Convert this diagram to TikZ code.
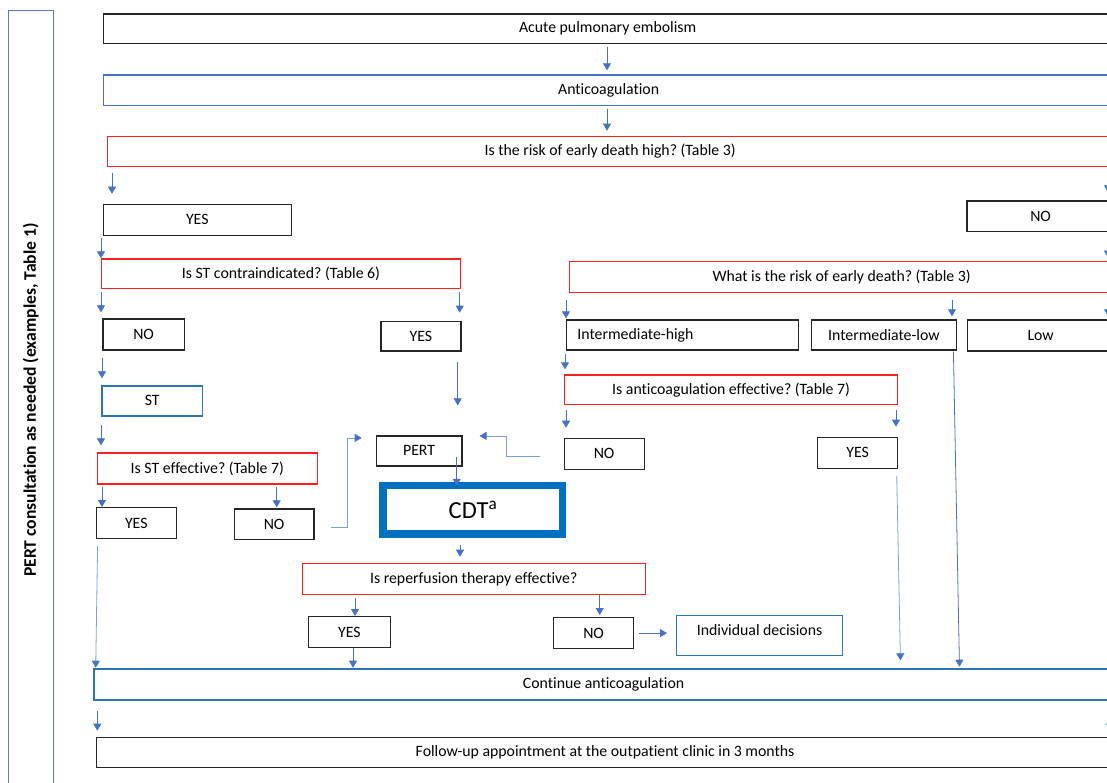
\documentclass[tikz,border=0pt]{standalone}
\usepackage{fontspec}
\setmainfont{Carlito}[Ligatures=NoCommon]
\usetikzlibrary{arrows.meta}
\definecolor{arrblue}{HTML}{4472C4}
\definecolor{lightarr}{HTML}{7F9FD6}
\definecolor{boxblue}{HTML}{4472C4}
\definecolor{brightblue}{HTML}{2E75B6}
\definecolor{cdtblue}{HTML}{0070C0}
\definecolor{sideblue}{HTML}{5B7DB8}
\definecolor{boxred}{HTML}{FF1F1F}
\frenchspacing
\begin{document}
\frenchspacing
\begin{tikzpicture}[x=1pt,y=-1pt,
  txt/.style={font=\fontsize{15.8}{19}\selectfont},
  box/.style={txt, draw=black!85, line width=1.2pt, inner sep=0pt, anchor=north west},
  bluebox/.style={box, draw=boxblue},
  bbox/.style={box, draw=brightblue},
  redbox/.style={box, draw=boxred},
  arr/.style={draw=arrblue, line width=0.8pt, -{Triangle[width=8pt,length=7pt]}},
  arrl/.style={draw=lightarr, line width=0.8pt, -{Triangle[width=8pt,length=7pt,color=arrblue]}}
]
\useasboundingbox (0,0) rectangle (1107,782);

% side panel
\node[draw=sideblue, line width=1.2pt, rotate=90, minimum width=778.6pt, minimum height=45pt, inner sep=0pt,
      font=\fontsize{17.6}{21}\selectfont\bfseries] (pertside) at (30.8,400) {PERT consultation as needed (examples, Table 1)};

% main boxes
\node[box, minimum width=1008.6pt, minimum height=29.4pt] (acute) at (102.7,13.3) {Acute pulmonary embolism};
\node[bluebox, minimum width=1010.6pt, minimum height=30.7pt] (anticoag) at (102.7,74.3) {Anticoagulation};
\node[redbox, minimum width=1005.6pt, minimum height=30.3pt] (risk) at (106.7,135.7) {Is the risk of early death high? (Table 3)};

\node[box, minimum width=188pt, minimum height=31pt] (yes1) at (102.7,203.7) {YES};
\node[box, minimum width=147.4pt, minimum height=30.7pt] (no1) at (966.3,200.3) {NO};

\node[redbox, minimum width=359.3pt, minimum height=29.4pt] (contra) at (100.7,258.3) {Is ST contraindicated? (Table 6)};
\node[redbox, minimum width=544pt, minimum height=31pt] (what) at (569,260.5) {What is the risk of early death? (Table 3)};

\node[box, minimum width=81.4pt, minimum height=31pt] (no2) at (102.3,318.3) {NO};
\node[box, minimum width=80pt, minimum height=29.6pt] (yes2) at (380.3,320.7) {YES};
\node[box, minimum width=232.3pt, minimum height=30pt, text width=220pt, align=left] (ih) at (565.7,319.3) {\hspace*{5pt}Intermediate-high};
\node[box, minimum width=145.5pt, minimum height=30pt] (il) at (810.5,319.3) {Intermediate-low};
\node[box, minimum width=146.4pt, minimum height=31pt] (low) at (966.8,319.3) {Low};

\node[bbox, minimum width=100.7pt, minimum height=30pt] (st) at (101.3,385.3) {ST};
\node[redbox, minimum width=333pt, minimum height=29.7pt] (ae) at (564,374.3) {Is anticoagulation effective? (Table 7)};

\node[redbox, minimum width=220pt, minimum height=31pt] (ste) at (96.7,452.3) {Is ST effective? (Table 7)};
\node[box, minimum width=85.6pt, minimum height=30pt] (pert) at (375.7,435.3) {PERT};
\node[box, minimum width=80pt, minimum height=31pt] (no3) at (563.5,437.7) {NO};
\node[box, minimum width=80pt, minimum height=31pt] (yes3) at (817,436.7) {YES};

\node[box, minimum width=80pt, minimum height=31pt] (yes4) at (95.7,507) {YES};
\node[box, minimum width=79.6pt, minimum height=30.7pt] (no4) at (233.7,508.3) {NO};

\node[draw=cdtblue, line width=7.5pt, inner sep=0pt, anchor=north west, minimum width=179.5pt, minimum height=48.5pt,
      font=\fontsize{24.5}{28}\selectfont] (cdt) at (379.45,481.75) {CDT\textsuperscript{a}};

\node[redbox, minimum width=342.8pt, minimum height=31pt] (rep) at (301.7,562.7) {Is reperfusion therapy effective?};
\node[box, minimum width=81.7pt, minimum height=31pt] (yes5) at (308,616) {YES};
\node[box, minimum width=80pt, minimum height=31pt] (no5) at (553,617) {NO};
\node[bbox, minimum width=166pt, minimum height=40pt, text depth=11.5pt] (indiv) at (676,615) {Individual decisions};

\node[bbox, minimum width=1019.4pt, minimum height=31pt] (cont) at (93.3,668.3) {Continue anticoagulation};
\node[box, minimum width=1017.6pt, minimum height=30pt] (follow) at (95.7,736.7) {Follow-up appointment at the outpatient clinic in 3 months};

% connectors
\draw[arr, shorten <=3pt, shorten >=4pt] (607,0 |- acute.south) -- (607,0 |- anticoag.north);
\draw[arr, shorten <=3pt, shorten >=5pt] (607,0 |- anticoag.south) -- (607,0 |- risk.north);
\draw[arr, shorten <=6pt, shorten >=10pt] (112,0 |- risk.south) -- (112,0 |- yes1.north);
\draw[arr, shorten <=6pt, shorten >=8pt] (1108,0 |- risk.south) -- (1108,0 |- no1.north);
\draw[arr, shorten <=2pt, shorten >=0pt] (101,0 |- yes1.south) -- (101,0 |- contra.north);
\draw[arr, shorten <=5pt, shorten >=3pt] (1108,0 |- no1.south) -- (1108,0 |- what.north);
\draw[arr, shorten <=3pt, shorten >=6pt] (101,0 |- contra.south) -- (101,0 |- no2.north);
\draw[arr, shorten <=3pt, shorten >=8pt] (459.7,0 |- contra.south) -- (459.7,0 |- yes2.north);
\draw[arr, shorten <=7pt, shorten >=1pt] (566,0 |- what.south) -- (566,0 |- ih.north);
\draw[arr, shorten <=7pt, shorten >=3pt] (952,0 |- what.south) -- (952,0 |- il.north);
\draw[arr, shorten <=7pt, shorten >=3pt] (1108,0 |- what.south) -- (1108,0 |- low.north);
\draw[arr, shorten <=7pt, shorten >=7pt] (102,0 |- no2.south) -- (102,0 |- st.north);
\draw[arr, shorten <=3pt, shorten >=5pt] (565,0 |- ih.south) -- (565,0 |- ae.north);
\draw[arr, shorten <=8pt, shorten >=7pt] (101,0 |- st.south) -- (101,0 |- ste.north);
\draw[arr, shorten <=10pt, shorten >=30pt] (457.7,0 |- yes2.south) -- (457.7,0 |- pert.north);
\draw[arr, shorten <=5pt, shorten >=10pt] (566,0 |- ae.south) -- (566,0 |- no3.north);
\draw[arr, shorten <=5pt, shorten >=10pt] (896,0 |- ae.south) -- (896,0 |- yes3.north);
\draw[arr, shorten <=2pt, shorten >=0pt] (102,0 |- ste.south) -- (102,0 |- yes4.north);
\draw[arr, shorten <=2pt, shorten >=1pt] (276.7,0 |- ste.south) -- (276.7,0 |- no4.north);
\draw[arr, shorten <=6.5pt, shorten >=-4pt] (456.7,0 |- pert.center) -- (456.7,0 |- cdt.north);
\draw[arr, shorten <=7pt, shorten >=6pt] (460,0 |- cdt.south) -- (460,0 |- rep.north);
\draw[arr, shorten <=3pt, shorten >=0pt] (355,0 |- rep.south) -- (355,0 |- yes5.north);
\draw[arr, shorten <=0.5pt, shorten >=2pt] (599.7,0 |- rep.south) -- (599.7,0 |- no5.north);
\draw[arr, shorten <=5pt, shorten >=9pt] (no5.east) -- (no5.east -| indiv.west);
\draw[arrl, shorten <=7pt, shorten >=0.6pt] (97.7,0 |- yes4.south) -- (95.7,0 |- cont.north);
\draw[arr, shorten <=0pt, shorten >=0.6pt] (353,0 |- yes5.south) -- (353,0 |- cont.north);
\draw[arrl, shorten <=7pt, shorten >=8pt] (896.6,0 |- yes3.south) -- (900.6,0 |- cont.north);
\draw[arr, shorten <=1pt, shorten >=1.6pt] (953.4,0 |- il.south) -- (959.5,0 |- cont.north);
\draw[arr, shorten <=10pt, shorten >=6pt] (97.3,0 |- cont.south) -- (97.3,0 |- follow.north);
\draw[arrl, shorten <=10pt, shorten >=6pt] (1110,0 |- cont.south) -- (1110,0 |- follow.north);

\draw[arrl, line width=0.7pt] ([xshift=16pt,yshift=-3pt]no4.east) -- ++(17,0) |- ([xshift=-14pt,yshift=13pt]pert.west);
\draw[arrl, line width=0.7pt] ([xshift=-23.5pt,yshift=-3pt]no3.west) -- ++(-34,0) |- ([xshift=17pt,yshift=15pt]pert.east);
\end{tikzpicture}
\end{document}
